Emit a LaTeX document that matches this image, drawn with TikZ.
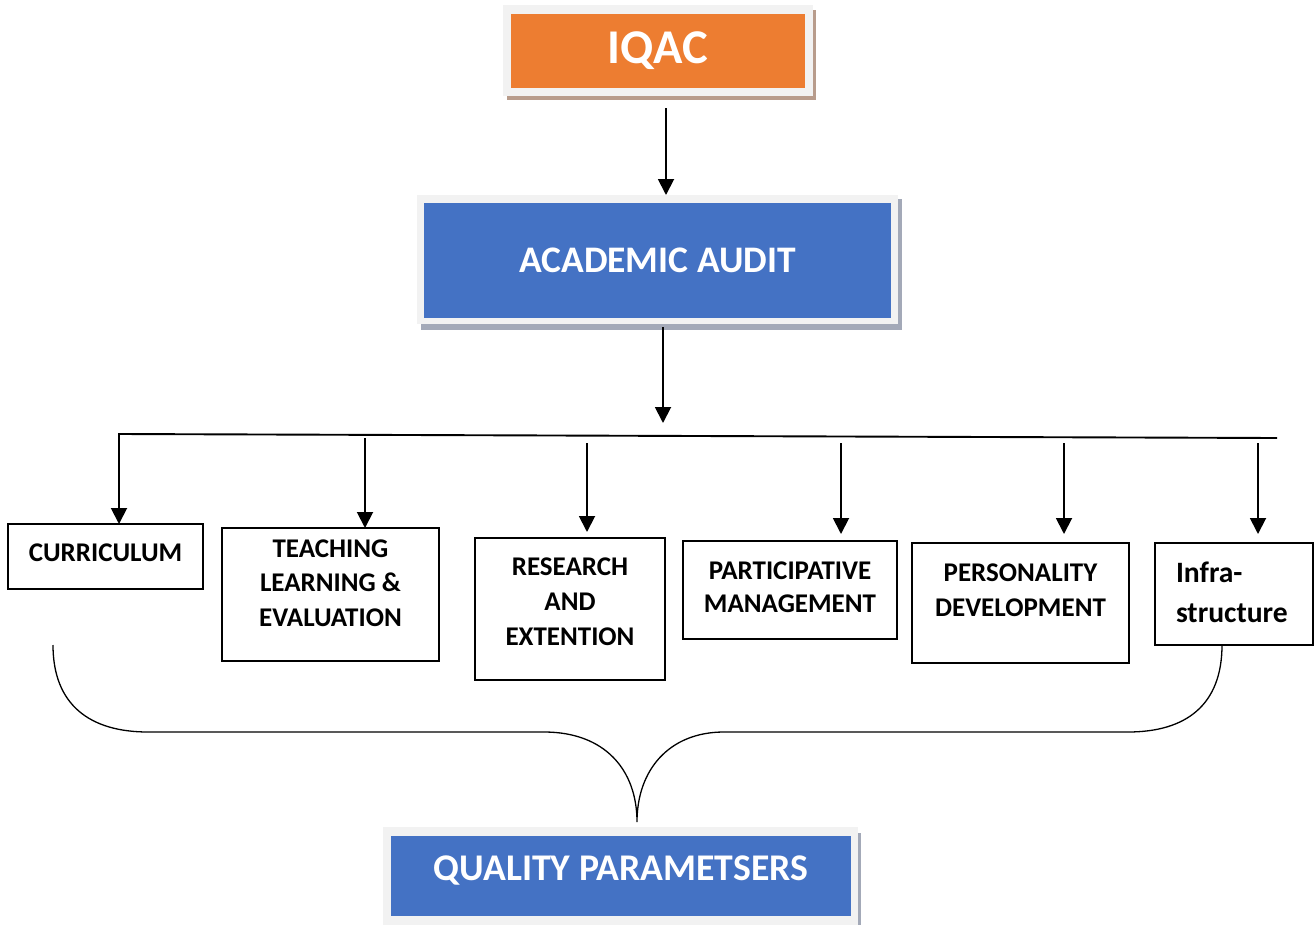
\documentclass[tikz,border=0pt]{standalone}
\usepackage{fontspec}
\setmainfont{Carlito}
\usetikzlibrary{arrows.meta,calc}
\definecolor{orangeF}{HTML}{ED7D31}
\definecolor{blueF}{HTML}{4472C4}
\definecolor{frameG}{HTML}{F2F2F2}
\definecolor{shadowB}{HTML}{B89C8C}
\definecolor{shadowG}{HTML}{A3A9B8}
\begin{document}
\begin{tikzpicture}[x=1pt,y=-1pt,
  plain/.style={inner sep=0pt,outer sep=0pt},
  frame/.style={plain,fill=frameG},
  box/.style={plain,draw=black,line width=1.7pt,fill=white},
  lbl/.style={plain,align=center,font=\bfseries\fontsize{27}{34.5}\selectfont},
  arr/.style={line width=1.9pt,-{Triangle[width=16pt,length=16pt]}},
  brace/.style={line width=1.3pt}]
\useasboundingbox (0,0) rectangle (1315,924);

% IQAC
\fill[shadowB] (507,10) rectangle (816,100);
\node[frame,minimum width=310pt,minimum height=91pt] (iqacF) at (658,50.5) {};
\node[plain,fill=orangeF,minimum width=294pt,minimum height=74pt,text=white,font=\bfseries\fontsize{48.5}{50}\selectfont] (iqac) at (658,51) {IQAC};

% ACADEMIC AUDIT
\fill[shadowG] (421,199) rectangle (902,330);
\node[frame,minimum width=481pt,minimum height=129pt] (aaF) at (657.5,259.5) {};
\node[plain,fill=blueF,minimum width=467pt,minimum height=115pt,text=white,font=\bfseries\fontsize{37.5}{40}\selectfont] (aa) at (657.5,260.5) {ACADEMIC AUDIT};

% QUALITY PARAMETSERS
\fill[shadowG] (387,833) rectangle (861,935);
\node[frame,minimum width=475pt,minimum height=108pt] (qpF) at (620.5,881) {};
\node[plain,fill=blueF,minimum width=460pt,minimum height=80pt] (qp) at (621,876) {};
\node[plain,text=white,font=\bfseries\fontsize{37.7}{40}\selectfont] (qpT) at (621,870) {QUALITY PARAMETSERS};

% small boxes
\node[box,minimum width=195pt,minimum height=65pt] (cur) at (105.5,556.5) {};
\node[box,minimum width=217pt,minimum height=133pt] (tle) at (330.5,594.5) {};
\node[box,minimum width=190pt,minimum height=142pt] (res) at (570,609) {};
\node[box,minimum width=214pt,minimum height=98pt] (par) at (790,590) {};
\node[box,minimum width=217pt,minimum height=120pt] (per) at (1020.5,603) {};
\node[box,minimum width=158pt,minimum height=102pt] (inf) at (1234,594) {};

\node[lbl] (curT) at (105.5,553) {CURRICULUM};
\node[lbl] (tleT) at (330.5,583) {TEACHING\\LEARNING \&\\EVALUATION};
\node[lbl,font=\bfseries\fontsize{27}{35}\selectfont] (resT) at (570,602) {RESEARCH\\AND\\EXTENTION};
\node[lbl,font=\bfseries\fontsize{27}{33}\selectfont] (parT) at (790,587) {PARTICIPATIVE\\MANAGEMENT};
\node[lbl,font=\bfseries\fontsize{27}{35}\selectfont] (perT) at (1020.5,590) {PERSONALITY\\DEVELOPMENT};
\node[lbl,align=left,anchor=west,font=\bfseries\fontsize{29.6}{40}\selectfont] (infT) at (1176,592) {Infra-\\structure};

% connectors
\coordinate (a1s) at (666,108);
\draw[arr] (a1s) -- (a1s |- aaF.north);
\coordinate (a2s) at (663,327);
\coordinate (a2e) at (663,423);
\draw[arr] (a2s) -- (a2e);

\coordinate (busL) at (119,434);
\coordinate (busR) at (1277,438);
\draw[arr] (busR) -- (busL) -- (busL |- cur.north);

\coordinate (d2) at (365,438);
\coordinate (d3) at (587,443);
\coordinate (d4) at (841,443);
\coordinate (d5) at (1064,443);
\coordinate (d6) at (1258,443);
\draw[arr] (d2) -- (d2 |- tle.north);
\draw[arr,shorten >=6pt] (d3) -- (d3 |- res.north);
\draw[arr,shorten >=7pt] (d4) -- (d4 |- par.north);
\draw[arr,shorten >=9pt] (d5) -- (d5 |- per.north);
\draw[arr,shorten >=9pt] (d6) -- (d6 |- inf.north);

% brace
\draw[brace] (53,645) .. controls (53,705) and (90,732) .. (148,732) -- (544,732)
  .. controls (605,732) and (637,770) .. (637,822)
  .. controls (637,770) and (669,732) .. (724,732) -- (1128,732)
  .. controls (1186,732) and (1222,705) .. (1222,645);
\end{tikzpicture}
\end{document}
